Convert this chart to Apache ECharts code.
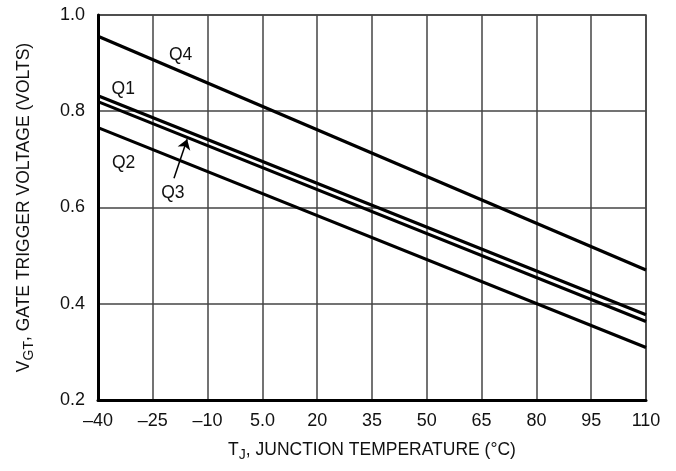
<!DOCTYPE html>
<html>
<head>
<meta charset="utf-8">
<script src="https://cdn.jsdelivr.net/npm/echarts@6/dist/echarts.min.js"></script>
<style>
  html, body { margin: 0; padding: 0; background: #fff; }
  #main { width: 676px; height: 471px; }
</style>
</head>
<body>
<div id="main"></div>
<script>
  // junction temperature range (°C) and gate trigger voltage per quadrant
  const tempPoints = [-40, 110]
  const q1Volts = [0.832, 0.377]
  const q2Volts = [0.766, 0.309]
  const q3Volts = [0.820, 0.363]
  const q4Volts = [0.956, 0.470]

  const xTickLabels = ['\u201340', '\u201325', '\u201310', '5.0', '20', '35', '50', '65', '80', '95', '110']
  const yTickLabels = ['0.2', '0.4', '0.6', '0.8', '1.0']

  // curve labels, placed in data coords
  const labelNames = ['Q1', 'Q2', 'Q3', 'Q4']
  const labelTemps = [-33.1, -33.0, -19.5, -17.4]
  const labelVolts = [0.846, 0.692, 0.630, 0.917]
  // arrow from Q3 label to its curve
  const arrowTemps = [-19.2, -15.6]
  const arrowVolts = [0.661, 0.742]

  const FONT = "'Liberation Sans', Arial, sans-serif"
  const INK = '#111'
  const GRID = '#444'

  function pairs (volts) {
    return tempPoints.map((t, i) => [t, volts[i]])
  }

  function qLabel (idx) {
    return {
      symbol: 'circle',
      symbolSize: 0,
      silent: true,
      label: {
        show: true,
        position: 'inside',
        color: INK,
        fontFamily: FONT,
        fontSize: 17.5,
        formatter: labelNames[idx]
      },
      data: [{coord: [labelTemps[idx], labelVolts[idx]]}]
    }
  }

  function curve (name, volts, idx) {
    return {
      name: name,
      type: 'line',
      data: pairs(volts),
      symbol: 'none',
      lineStyle: {color: '#000', width: 3.2},
      markPoint: qLabel(idx),
      z: 5
    }
  }

  const series = [
    curve('Q1', q1Volts, 0),
    curve('Q2', q2Volts, 1),
    curve('Q3', q3Volts, 2),
    curve('Q4', q4Volts, 3)
  ]
  series[2].markLine = {
    silent: true,
    symbol: ['none', 'arrow'],
    symbolSize: 10,
    lineStyle: {color: '#000', width: 1.5, type: 'solid'},
    label: {show: false},
    data: [[
      {coord: [arrowTemps[0], arrowVolts[0]]},
      {coord: [arrowTemps[1], arrowVolts[1]]}
    ]]
  }

  const titleRich = {
    m: {fontFamily: FONT, fontSize: 17.5, color: INK},
    s: {fontFamily: FONT, fontSize: 14, color: INK, padding: [9, 0, 0, 0]}
  }

  const chart = echarts.init(document.getElementById('main'))
  chart.setOption({
    animation: false,
    backgroundColor: '#fff',
    grid: {
      left: 98,
      right: 30,
      top: 15,
      bottom: 71,
      show: true,
      borderColor: GRID,
      borderWidth: 1.5
    },
    xAxis: {
      type: 'value',
      min: -40,
      max: 110,
      interval: 15,
      name: '{m|T}{s|J}{m|, JUNCTION TEMPERATURE (\u00b0C)}',
      nameLocation: 'middle',
      nameGap: 39,
      nameTextStyle: {rich: titleRich},
      axisLine: {show: true, onZero: false, lineStyle: {color: '#000', width: 3}},
      axisTick: {show: false},
      axisLabel: {
        margin: 12,
        color: INK,
        fontFamily: FONT,
        fontSize: 18,
        formatter: (v, i) => xTickLabels[i]
      },
      splitLine: {show: true, lineStyle: {color: GRID, width: 1.5}}
    },
    yAxis: {
      type: 'value',
      min: 0.2,
      max: 1.0,
      interval: 0.2,
      name: '{m|V}{s|GT}{m|, GATE TRIGGER VOLTAGE (VOLTS)}',
      nameLocation: 'middle',
      nameGap: 62,
      nameTextStyle: {rich: titleRich},
      axisLine: {show: true, onZero: false, lineStyle: {color: '#000', width: 3}},
      axisTick: {show: false},
      axisLabel: {
        margin: 13,
        color: INK,
        fontFamily: FONT,
        fontSize: 18,
        formatter: (v, i) => yTickLabels[i]
      },
      splitLine: {show: true, lineStyle: {color: GRID, width: 1.5}}
    },
    series: series
  })
</script>
</body>
</html>
